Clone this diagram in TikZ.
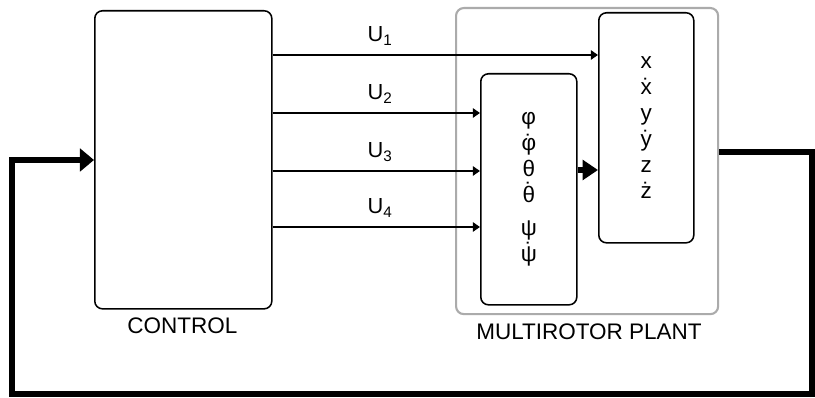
\documentclass[tikz,border=0pt]{standalone}
\usepackage{fontspec}
\setmainfont{Liberation Sans}
\usetikzlibrary{arrows.meta,positioning,calc}
\definecolor{ink}{HTML}{000000}
\definecolor{framegray}{HTML}{ABABAB}
\newcommand\dotacc[1]{{\accent"02D9 #1}}

\begin{document}
\begin{tikzpicture}[
  x=0.025cm, y=-0.025cm,
  every node/.style={font=\fontsize{16}{18.5}\selectfont},
  block/.style={rectangle, rounded corners=5.5pt, draw=ink, line width=1.1pt, inner sep=0pt, anchor=north west, align=center},
  plantbox/.style={block, draw=framegray, line width=1.5pt},
  sig/.style={-{Triangle[length=5pt,width=6.5pt]}, line width=1.7pt, draw=ink},
  bigarrow/.style={-{Triangle[length=11pt,width=14pt]}, line width=4pt, draw=ink},
  feedback/.style={-{Triangle[length=10pt,width=16pt]}, line width=4.3pt, draw=ink},
  ulabel/.style={font=\fontsize{15.5}{18}\selectfont, anchor=base, inner sep=0pt},
  caption/.style={inner sep=0pt}
]
\useasboundingbox (0,0) rectangle (815,398);

% blocks
\node[block, minimum width=4.425cm, minimum height=7.45cm] (ctrl) at (94,10) {};
\node[plantbox, minimum width=6.55cm, minimum height=7.65cm] (plant) at (455,7) {};
\node[block, minimum width=2.4cm, minimum height=5.775cm] (att) at (480,73)
  {φ\\ \dotacc{φ}\\ θ\\ \dotacc{θ}\\[5pt] ψ\\ \dotacc{ψ}};
\node[block, minimum width=2.375cm, minimum height=5.75cm] (pos) at (598,12)
  {x\\ \dotacc{x}\\ y\\ \dotacc{y}\\ z\\ \dotacc{z}};

% captions
\node[caption] (ctrllbl)  at (182.5,326) {CONTROL};
\node[caption] (plantlbl) at (589,332) {MULTIROTOR PLANT};

% control inputs
\foreach \i/\yy/\tgt in {1/55/pos, 2/113/att, 3/171/att, 4/227/att} {
  \draw[sig] (ctrl.east |- 0,\yy) -- (\tgt.west |- 0,\yy);
  \node[ulabel] (u\i) at (380,\yy-13) {U\textsubscript{\i}};
}

% attitude feeds position
\draw[bigarrow] (att.east |- 0,170) -- (pos.west |- 0,170);

% feedback loop
\coordinate (fbr) at (812,152);
\coordinate (fbl) at (12,394);
\draw[feedback] (plant.east |- fbr) -- (fbr) |- (fbl) |- (ctrl.west |- 0,160);
\end{tikzpicture}
\end{document}
